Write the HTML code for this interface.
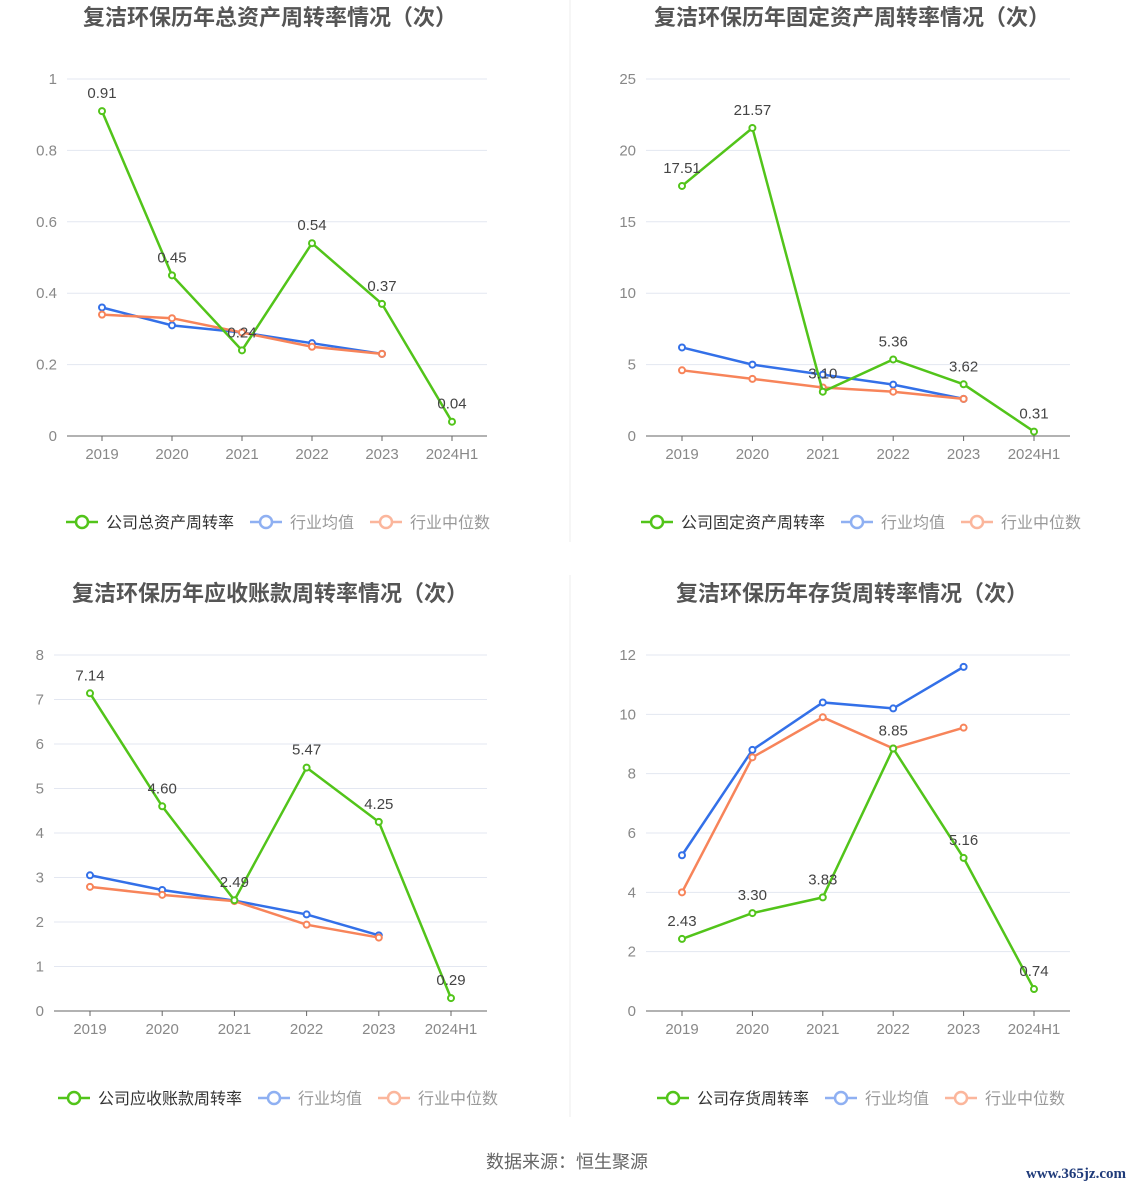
<!DOCTYPE html>
<html><head><meta charset="utf-8">
<style>
html,body{margin:0;padding:0;background:#fff;}
body{width:1134px;height:1188px;overflow:hidden;font-family:"Liberation Sans","Noto Sans CJK SC",sans-serif;}
svg{position:absolute;left:0;top:0;}
</style></head>
<body>
<svg id="svg" width="1134" height="1188" xmlns="http://www.w3.org/2000/svg">
<line x1="570" y1="0" x2="570" y2="542" stroke="#eee"/>
<line x1="570" y1="575" x2="570" y2="1117" stroke="#eee"/>
<text x="567" y="1168" text-anchor="middle" font-size="18" fill="#666">数据来源：恒生聚源</text>
<text x="1126" y="1178" text-anchor="end" font-size="15" font-family="Liberation Serif,serif" font-weight="bold" fill="#1f3b7a">www.365jz.com</text>
</svg>
<script>
const categories = ["2019","2020","2021","2022","2023","2024H1"];
const c1Company = [0.91,0.45,0.24,0.54,0.37,0.04];
const c1Avg = [0.36,0.31,0.29,0.26,0.23];
const c1Median = [0.34,0.33,0.29,0.25,0.23];
const c1Ticks = [0,0.2,0.4,0.6,0.8,1];
const c1Labels = ["0.91","0.45","0.24","0.54","0.37","0.04"];
const c2Company = [17.51,21.57,3.10,5.36,3.62,0.31];
const c2Avg = [6.2,5.0,4.3,3.6,2.6];
const c2Median = [4.6,4.0,3.4,3.1,2.6];
const c2Ticks = [0,5,10,15,20,25];
const c2Labels = ["17.51","21.57","3.10","5.36","3.62","0.31"];
const c3Company = [7.14,4.60,2.49,5.47,4.25,0.29];
const c3Avg = [3.05,2.72,2.48,2.17,1.70];
const c3Median = [2.79,2.61,2.47,1.94,1.65];
const c3Ticks = [0,1,2,3,4,5,6,7,8];
const c3Labels = ["7.14","4.60","2.49","5.47","4.25","0.29"];
const c4Company = [2.43,3.30,3.83,8.85,5.16,0.74];
const c4Avg = [5.25,8.8,10.4,10.2,11.6];
const c4Median = [4.0,8.55,9.9,8.85,9.55];
const c4Ticks = [0,2,4,6,8,10,12];
const c4Labels = ["2.43","3.30","3.83","8.85","5.16","0.74"];

const svg = document.getElementById('svg');
const NS = "http://www.w3.org/2000/svg";
function mk(tag, attrs, parent){const e=document.createElementNS(NS,tag);for(const k in attrs)e.setAttribute(k,attrs[k]);(parent||svg).appendChild(e);return e;}
const GREEN="#52c41a", BLUE="#3370e8", ORANGE="#f7845a";

function chart(cfg){
  const g = mk('g',{});
  
  
  const yMax = cfg.ticks[cfg.ticks.length-1];
  const y = v => cfg.y0 - (v/yMax)*(cfg.y0-cfg.y1);
  const x = i => cfg.x0 + i*cfg.dx;
  const t = mk('text',{x:cfg.tx,y:cfg.ty,'text-anchor':'middle','font-size':22,'font-weight':'bold',fill:'#555'},g);
  t.textContent = cfg.title;
  
  
  cfg.ticks.forEach(v=>{
    if(v>0){const l=mk('line',{x1:cfg.ax0,x2:cfg.ax1,y1:y(v),y2:y(v),stroke:'#e3e7f1'},g);
      }
    const tl=mk('text',{x:cfg.ax0-10,y:y(v)+5,'text-anchor':'end','font-size':15,fill:'#888'},g);
    tl.textContent=String(v);
    
  });
  const ax=mk('line',{x1:cfg.ax0,x2:cfg.ax1,y1:cfg.y0,y2:cfg.y0,stroke:'#666'},g);
  
  categories.forEach((c,i)=>{
    const tk=mk('line',{x1:x(i),x2:x(i),y1:cfg.y0,y2:cfg.y0+5,stroke:'#666'},g);
    
    const tl=mk('text',{x:x(i),y:cfg.y0+23,'text-anchor':'middle','font-size':15,fill:'#888'},g);
    tl.textContent=c;
    
  });
  function series(vals,color,name){
    const pts=vals.map((v,i)=>x(i)+','+y(v)).join(' ');
    const pl=mk('polyline',{points:pts,fill:'none',stroke:color,'stroke-width':2.5},g);
    
    vals.forEach((v,i)=>{const c=mk('circle',{cx:x(i),cy:y(v),r:3,fill:'#fff',stroke:color,'stroke-width':2},g);
      });
  }
  series(cfg.avg,BLUE,'industry-average');
  series(cfg.median,ORANGE,'industry-median');
  series(cfg.company,GREEN,'company');
  cfg.company.forEach((v,i)=>{
    const tl=mk('text',{x:x(i),y:y(v)-13,'text-anchor':'middle','font-size':15,fill:'#444'},g);
    tl.textContent=cfg.labels[i];
    
  });
  // legend
  let lx=cfg.lx; const ly=cfg.ly;
  [[cfg.legend,GREEN,'#333'],['行业均值','#8fb0f2','#999'],['行业中位数','#fbb69c','#999']].forEach((it,k)=>{
    const lg=mk('g',{},g);
    
    mk('line',{x1:lx,x2:lx+32,y1:ly,y2:ly,stroke:it[1],'stroke-width':2.5},lg);
    mk('circle',{cx:lx+16,cy:ly,r:6,fill:'#fff',stroke:it[1],'stroke-width':2.5},lg);
    const tx=mk('text',{x:lx+40,y:ly+6,'font-size':16,fill:it[2]},lg);
    tx.textContent=it[0];
    lx += 40 + it[0].length*16 + 16;
  });
}
chart({id:'chart-total-asset-turnover',title:'复洁环保历年总资产周转率情况（次）',tx:270,ty:25,x0:102,dx:70,ax0:67,ax1:487,y0:436,y1:79,ticks:c1Ticks,company:c1Company,avg:c1Avg,median:c1Median,labels:c1Labels,legend:'公司总资产周转率',lx:66,ly:522});
chart({id:'chart-fixed-asset-turnover',title:'复洁环保历年固定资产周转率情况（次）',tx:852,ty:25,x0:682,dx:70.4,ax0:646,ax1:1070,y0:436,y1:79,ticks:c2Ticks,company:c2Company,avg:c2Avg,median:c2Median,labels:c2Labels,legend:'公司固定资产周转率',lx:641,ly:522});
chart({id:'chart-receivables-turnover',title:'复洁环保历年应收账款周转率情况（次）',tx:270,ty:601,x0:90,dx:72.2,ax0:54,ax1:487,y0:1011,y1:655,ticks:c3Ticks,company:c3Company,avg:c3Avg,median:c3Median,labels:c3Labels,legend:'公司应收账款周转率',lx:58,ly:1098});
chart({id:'chart-inventory-turnover',title:'复洁环保历年存货周转率情况（次）',tx:852,ty:601,x0:682,dx:70.4,ax0:646,ax1:1070,y0:1011,y1:655,ticks:c4Ticks,company:c4Company,avg:c4Avg,median:c4Median,labels:c4Labels,legend:'公司存货周转率',lx:657,ly:1098});
</script>
</body></html>
